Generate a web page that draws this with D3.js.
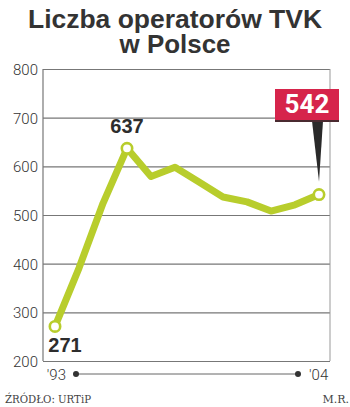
<!DOCTYPE html>
<html><head><meta charset="utf-8">
<script src="https://cdn.jsdelivr.net/npm/d3@7"></script>
<style>html,body{margin:0;padding:0;background:#fff;}svg{display:block;}</style>
</head><body>
<script>
const years = [1993,1994,1995,1996,1997,1998,1999,2000,2001,2002,2003,2004];
const values = [271,391,524,637,579,598,568,537,527,508,521,542];
const yTicks = [200,300,400,500,600,700,800];
const titleLines = ["Liczba operatorów TVK","w Polsce"];
const timelineLabels = ["'93","'04"];

const W=350,H=407;
const svg=d3.select("body").append("svg").attr("width",W).attr("height",H);
const x=d3.scaleLinear().domain([1993,2004]).range([55,319]);
const y=d3.scaleLinear().domain([200,800]).range([361,69]);
const xt=d3.scaleLinear().domain([1993,2004]).range([76,298]);
const L=43,R=330;

// title
svg.selectAll("text.title").data(titleLines).join("text")
 .attr("x",175).attr("y",(d,i)=>27.5+i*25.8)
 .attr("text-anchor","middle").attr("font-family","Liberation Sans, Arial, sans-serif")
 .attr("font-weight","bold").attr("font-size",25).attr("fill","#333")
 .attr("textLength",(d,i)=>i===0?294:111).attr("lengthAdjust","spacingAndGlyphs")
 .text(d=>d);

// grid
const axis=d3.axisLeft(y).tickValues(yTicks).tickSize(-(R-L)).tickPadding(5).tickFormat(d3.format("d"));
const g=svg.append("g").attr("transform",`translate(${L},0)`).call(axis);
g.select(".domain").remove();
g.selectAll(".tick line").attr("stroke","#777").attr("stroke-width",1.2);
g.selectAll(".tick text").attr("font-family","Roboto, sans-serif").attr("font-weight",300)
 .attr("font-size",15).attr("fill","#333").attr("dy","0.36em");
svg.append("line").attr("x1",L).attr("x2",L).attr("y1",y(800)).attr("y2",y(200)).attr("stroke","#777").attr("stroke-width",1.2);
svg.append("line").attr("x1",R).attr("x2",R).attr("y1",y(800)).attr("y2",y(200)).attr("stroke","#999").attr("stroke-width",1);

// line
const data=years.map((d,i)=>({year:d,value:values[i]}));
svg.append("path").datum(data)
 .attr("d",d3.line().x(d=>x(d.year)).y(d=>y(d.value)))
 .attr("fill","none").attr("stroke","#b8cd2c").attr("stroke-width",7)
 .attr("stroke-linejoin","round").attr("stroke-linecap","round");
const marked=[data[0],data[3],data[11]];
svg.selectAll("circle.m").data(marked).join("circle")
 .attr("cx",d=>x(d.year)).attr("cy",d=>y(d.value)).attr("r",5.2)
 .attr("fill","#fff").attr("stroke","#b8cd2c").attr("stroke-width",2.6);

// value labels
svg.append("text").attr("x",x(1996)).attr("y",y(637)-15).attr("text-anchor","middle")
 .attr("font-family","Liberation Sans, Arial, sans-serif").attr("font-weight","bold").attr("font-size",20).attr("fill","#2d2d2d").text(values[3]);
svg.append("text").attr("x",x(1993)+10).attr("y",y(271)+26).attr("text-anchor","middle")
 .attr("font-family","Liberation Sans, Arial, sans-serif").attr("font-weight","bold").attr("font-size",20).attr("fill","#2d2d2d").text(values[0]);

// callout
const px=x(2004), py=y(542);
svg.append("path").attr("d",`M${px-7},121 L${px+4},121 L${px},${py-13} Z`).attr("fill","#2a2a2a");
svg.append("rect").attr("x",275).attr("y",89).attr("width",64).attr("height",33).attr("fill","#4a2a30");
svg.append("rect").attr("x",275).attr("y",89).attr("width",64).attr("height",31).attr("fill","#d6244b");
svg.append("text").attr("x",307).attr("y",113.3).attr("text-anchor","middle")
 .attr("font-family","Roboto, sans-serif").attr("font-weight","bold").attr("font-size",26).attr("fill","#fff").text(values[11]);

// timeline
svg.append("line").attr("x1",xt(1993)).attr("x2",xt(2004)).attr("y1",374).attr("y2",374).attr("stroke","#666").attr("stroke-width",1);
svg.selectAll("circle.t").data([1993,2004]).join("circle").attr("cx",d=>xt(d)).attr("cy",374).attr("r",3).attr("fill","#333");
svg.append("text").attr("x",xt(1993)-10).attr("y",379.5).attr("text-anchor","end")
 .attr("font-family","Roboto, sans-serif").attr("font-weight",300).attr("font-size",15).attr("fill","#333").text(timelineLabels[0]);
svg.append("text").attr("x",xt(2004)+11).attr("y",379.5).attr("text-anchor","start")
 .attr("font-family","Roboto, sans-serif").attr("font-weight",300).attr("font-size",15).attr("fill","#333").text(timelineLabels[1]);

// footer
svg.append("text").attr("x",5).attr("y",403).attr("font-family","DejaVu Serif, serif").attr("font-size",11)
 .attr("fill","#444").attr("textLength",86).attr("lengthAdjust","spacingAndGlyphs").text("ŹRÓDŁO: URTiP");
svg.append("text").attr("x",349).attr("y",403).attr("text-anchor","end").attr("font-family","DejaVu Serif, serif").attr("font-size",11)
 .attr("fill","#444").text("M.R.");
</script>
</body></html>
